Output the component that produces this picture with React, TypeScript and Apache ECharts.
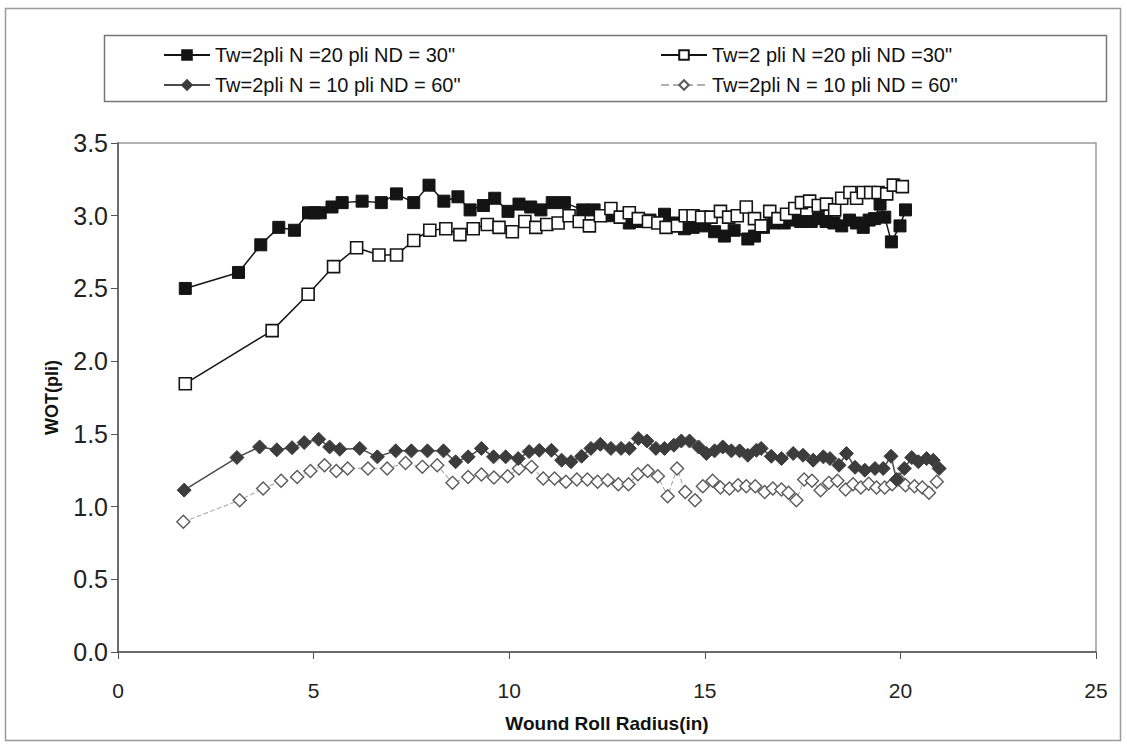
import React, { useEffect, useRef } from "react";
import * as echarts from "echarts";

const seriesNames = [
  'Tw=2pli N =20 pli ND = 30"',
  'Tw=2 pli N =20 pli ND =30"',
  'Tw=2pli N = 10 pli ND = 60"',
  'Tw=2pli N = 10 pli ND = 60" ',
];

const xTickLabels = ["0", "5", "10", "15", "20", "25"];
const yTickLabels = ["0.0", "0.5", "1.0", "1.5", "2.0", "2.5", "3.0", "3.5"];

const s1X = [1.72, 3.08, 3.65, 4.11, 4.51, 4.87, 5.02, 5.17, 5.47, 5.73, 6.24, 6.73, 7.12, 7.56, 7.95, 8.33, 8.69, 9.0, 9.34, 9.63, 9.97, 10.25, 10.55, 10.81, 11.1, 11.41, 11.88, 12.17, 12.6, 13.07, 13.3, 13.6, 13.97, 14.2, 14.48, 14.7, 15.0, 15.25, 15.5, 15.75, 16.1, 16.27, 16.5, 16.75, 17.03, 17.25, 17.45, 17.72, 17.9, 18.1, 18.3, 18.5, 18.7, 18.88, 19.05, 19.2, 19.34, 19.48, 19.6, 19.77, 19.99, 20.13];
const s1Y = [2.5, 2.61, 2.8, 2.92, 2.9, 3.02, 3.02, 3.02, 3.06, 3.09, 3.1, 3.09, 3.15, 3.09, 3.21, 3.1, 3.13, 3.04, 3.07, 3.12, 3.03, 3.08, 3.06, 3.04, 3.09, 3.09, 3.04, 3.04, 3.0, 2.95, 2.96, 2.97, 3.01, 2.95, 2.91, 2.92, 2.93, 2.89, 2.86, 2.9, 2.84, 2.86, 2.92, 2.95, 2.95, 2.97, 2.96, 2.96, 2.98, 2.96, 2.95, 2.93, 2.97, 2.95, 2.92, 2.97, 2.98, 3.08, 2.99, 2.82, 2.93, 3.04];

const s2X = [1.72, 3.94, 4.86, 5.51, 6.1, 6.67, 7.12, 7.56, 7.97, 8.38, 8.74, 9.08, 9.44, 9.74, 10.08, 10.4, 10.68, 10.96, 11.25, 11.53, 11.79, 12.05, 12.33, 12.6, 12.84, 13.07, 13.3, 13.56, 13.8, 14.01, 14.3, 14.5, 14.7, 14.92, 15.16, 15.4, 15.61, 15.83, 16.06, 16.27, 16.44, 16.66, 16.87, 17.09, 17.3, 17.47, 17.68, 17.9, 18.11, 18.32, 18.5, 18.71, 18.88, 19.05, 19.24, 19.43, 19.65, 19.82, 20.05];
const s2Y = [1.845, 2.21, 2.46, 2.65, 2.78, 2.73, 2.73, 2.83, 2.9, 2.91, 2.87, 2.91, 2.94, 2.92, 2.89, 2.96, 2.92, 2.94, 2.95, 3.0, 2.96, 2.93, 3.0, 3.05, 2.99, 3.02, 2.98, 2.96, 2.95, 2.92, 2.93, 3.0, 3.0, 2.99, 2.99, 3.03, 2.99, 3.0, 3.06, 2.98, 2.93, 3.03, 2.98, 3.01, 3.05, 3.09, 3.1, 3.07, 3.08, 3.04, 3.12, 3.16, 3.12, 3.16, 3.16, 3.16, 3.15, 3.21, 3.2];

const s3X = [1.69, 3.04, 3.62, 4.06, 4.45, 4.76, 5.13, 5.41, 5.67, 6.18, 6.63, 7.1, 7.5, 7.91, 8.32, 8.63, 8.95, 9.29, 9.6, 9.91, 10.23, 10.51, 10.77, 11.08, 11.34, 11.58, 11.85, 12.09, 12.33, 12.6, 12.86, 13.07, 13.3, 13.52, 13.75, 13.97, 14.21, 14.4, 14.61, 14.84, 15.04, 15.25, 15.46, 15.68, 15.89, 16.1, 16.32, 16.44, 16.7, 16.96, 17.26, 17.51, 17.77, 18.03, 18.2, 18.43, 18.62, 18.84, 19.09, 19.35, 19.56, 19.76, 19.9, 20.1, 20.29, 20.46, 20.67, 20.84, 20.99];
const s3Y = [1.113, 1.337, 1.41, 1.39, 1.405, 1.44, 1.463, 1.41, 1.394, 1.4, 1.342, 1.383, 1.383, 1.383, 1.383, 1.308, 1.342, 1.4, 1.342, 1.342, 1.33, 1.378, 1.387, 1.387, 1.319, 1.308, 1.346, 1.4, 1.428, 1.4, 1.4, 1.4, 1.468, 1.451, 1.4, 1.4, 1.422, 1.451, 1.451, 1.41, 1.365, 1.383, 1.41, 1.383, 1.383, 1.353, 1.387, 1.4, 1.346, 1.33, 1.365, 1.353, 1.319, 1.342, 1.33, 1.284, 1.365, 1.27, 1.25, 1.262, 1.262, 1.346, 1.186, 1.262, 1.337, 1.308, 1.33, 1.319, 1.262];

const s4X = [1.67, 3.11, 3.71, 4.17, 4.58, 4.92, 5.28, 5.58, 5.87, 6.39, 6.88, 7.35, 7.78, 8.16, 8.55, 8.95, 9.29, 9.61, 9.96, 10.25, 10.57, 10.87, 11.16, 11.45, 11.73, 12.0, 12.26, 12.52, 12.79, 13.05, 13.29, 13.54, 13.8, 14.05, 14.29, 14.5, 14.75, 14.95, 15.2, 15.4, 15.63, 15.85, 16.06, 16.29, 16.53, 16.74, 16.96, 17.14, 17.34, 17.54, 17.74, 17.96, 18.17, 18.39, 18.6, 18.79, 18.99, 19.19, 19.39, 19.6, 19.79, 19.96, 20.13, 20.36, 20.56, 20.73, 20.93];
const s4Y = [0.895, 1.044, 1.124, 1.177, 1.204, 1.245, 1.284, 1.245, 1.262, 1.262, 1.262, 1.3, 1.273, 1.284, 1.163, 1.204, 1.22, 1.2, 1.209, 1.262, 1.273, 1.193, 1.193, 1.17, 1.186, 1.186, 1.17, 1.181, 1.154, 1.154, 1.223, 1.245, 1.209, 1.071, 1.262, 1.1, 1.044, 1.14, 1.177, 1.131, 1.124, 1.147, 1.14, 1.14, 1.1, 1.124, 1.118, 1.095, 1.044, 1.186, 1.177, 1.113, 1.163, 1.177, 1.118, 1.154, 1.131, 1.157, 1.131, 1.131, 1.154, 1.186, 1.147, 1.14, 1.131, 1.095, 1.17];

const zip = (xs: number[], ys: number[]) => xs.map((x, i) => [x, ys[i]]);

const NARROW = "'Liberation Sans Narrow', 'Arial Narrow', 'Liberation Sans', Arial, sans-serif";

export default function App() {
  const ref = useRef<HTMLDivElement>(null);
  useEffect(() => {
    if (!ref.current) return;
    const chart = echarts.init(ref.current, null, { renderer: "svg" });
    const legendText = { fontFamily: NARROW, fontSize: 20, color: "#111" };
    const legendBase = {
      orient: "horizontal",
      padding: 0,
      itemWidth: 46,
      itemHeight: 12,
      itemGap: 4,
      textStyle: legendText,
      selectedMode: false,
    };
    chart.setOption({
      animation: false,
      backgroundColor: "#ffffff",
      graphic: [
        {
          type: "rect",
          shape: { x: 5.5, y: 8.5, width: 1115, height: 732 },
          style: { fill: "none", stroke: "#9a9a9a", lineWidth: 1.5 },
          z: 0,
        },
        {
          type: "rect",
          shape: { x: 104.5, y: 35.5, width: 1002, height: 66 },
          style: { fill: "none", stroke: "#777", lineWidth: 1.5 },
          z: 0,
        },
      ],
      legend: [
        { ...legendBase, data: [seriesNames[0]], left: 163, top: 45 },
        { ...legendBase, data: [seriesNames[1]], left: 660, top: 45 },
        { ...legendBase, data: [seriesNames[2]], left: 163, top: 75 },
        { ...legendBase, data: [seriesNames[3]], left: 660, top: 75 },
      ],
      grid: {
        left: 118,
        right: 31,
        top: 143,
        bottom: 95,
        show: true,
        borderColor: "#9a9a9a",
        borderWidth: 1.5,
        backgroundColor: "transparent",
      },
      xAxis: {
        type: "value",
        min: 0,
        max: 25,
        interval: 5,
        name: "Wound Roll Radius(in)",
        nameLocation: "middle",
        nameGap: 62,
        nameTextStyle: { fontFamily: NARROW, fontSize: 19, fontWeight: "bold", color: "#111" },
        axisLine: { show: true, lineStyle: { color: "#555", width: 1.5 } },
        axisTick: { show: true, inside: false, length: 7, lineStyle: { color: "#555" } },
        axisLabel: {
          fontFamily: NARROW,
          fontSize: 21,
          color: "#222",
          margin: 28,
          formatter: (v: number) => xTickLabels[Math.round(v / 5)] ?? String(v),
        },
        splitLine: { show: false },
      },
      yAxis: {
        type: "value",
        min: 0,
        max: 3.5,
        interval: 0.5,
        name: "WOT(pli)",
        nameLocation: "middle",
        nameGap: 57,
        nameRotate: 90,
        nameTextStyle: { fontFamily: NARROW, fontSize: 18, fontWeight: "bold", color: "#111" },
        axisLine: { show: true, lineStyle: { color: "#555", width: 1.5 } },
        axisTick: { show: true, inside: false, length: 7, lineStyle: { color: "#555" } },
        axisLabel: {
          fontFamily: NARROW,
          fontSize: 25,
          color: "#222",
          margin: 10,
          formatter: (v: number) => yTickLabels[Math.round(v / 0.5)] ?? v.toFixed(1),
        },
        splitLine: { show: false },
      },
      series: [
        {
          name: seriesNames[0],
          type: "line",
          data: zip(s1X, s1Y),
          symbol: "rect",
          symbolSize: 12,
          itemStyle: { color: "#141414", borderColor: "#141414", borderWidth: 1 },
          lineStyle: { color: "#141414", width: 1.5 },
          z: 4,
        },
        {
          name: seriesNames[1],
          type: "line",
          data: zip(s2X, s2Y),
          symbol: "rect",
          symbolSize: 12,
          itemStyle: { color: "#ffffff", borderColor: "#141414", borderWidth: 1.6 },
          lineStyle: { color: "#141414", width: 1.5 },
          z: 5,
        },
        {
          name: seriesNames[2],
          type: "line",
          data: zip(s3X, s3Y),
          symbol: "diamond",
          symbolSize: 14,
          itemStyle: { color: "#3c3c3c", borderColor: "#3c3c3c", borderWidth: 1 },
          lineStyle: { color: "#4a4a4a", width: 1.5 },
          z: 3,
        },
        {
          name: seriesNames[3],
          type: "line",
          data: zip(s4X, s4Y),
          symbol: "diamond",
          symbolSize: 13,
          itemStyle: { color: "#ffffff", borderColor: "#5a5a5a", borderWidth: 1.4 },
          lineStyle: { color: "#b0b0b0", width: 1.2, type: "dashed" },
          z: 2,
        },
      ],
    });
    return () => chart.dispose();
  }, []);
  return (
    <div
      ref={ref}
      style={{ position: "fixed", left: 0, top: 0, width: 1127, height: 747, background: "#fff" }}
    />
  );
}
